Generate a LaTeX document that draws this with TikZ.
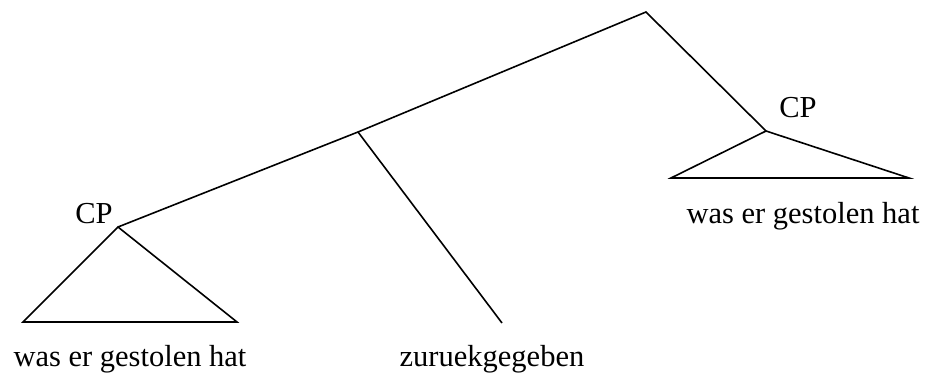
\documentclass[tikz,border=0pt]{standalone}
\usepackage{fontspec}
\setmainfont{Liberation Serif}
\begin{document}
\begin{tikzpicture}[x=1pt,y=-1pt,
  edge/.style={draw=black,line width=1.6pt,line join=miter},
  lbl/.style={inner sep=0pt,anchor=base,font=\fontsize{30.5}{34}\selectfont}]
\useasboundingbox (0,0) rectangle (930,379);
% points
\coordinate (top) at (646,12);
\coordinate (mid) at (358,132);
\coordinate (midend) at (502,323);
\coordinate (cpR) at (766,131);
\coordinate (rbl) at (671,178);
\coordinate (rbr) at (909,178);
\coordinate (cpL) at (118,227);
\coordinate (lbl) at (23,322);
\coordinate (lbr) at (237,322);
% edges
\draw[edge] (cpL) -- (mid) -- (top) -- (cpR);
\draw[edge] (mid) -- (midend);
\draw[edge] (cpR) -- (rbl) -- (rbr) -- cycle;
\draw[edge] (cpL) -- (lbl) -- (lbr) -- cycle;
% labels
\node[lbl] (tR) at (798,118) {CP};
\node[lbl] (tL) at (94,224) {CP};
\node[lbl] (wR) at (803,224) {was er gestolen hat};
\node[lbl] (wL) at (130,367) {was er gestolen hat};
\node[lbl] (zu) at (492,367) {zuruekgegeben};
\end{tikzpicture}
\end{document}
